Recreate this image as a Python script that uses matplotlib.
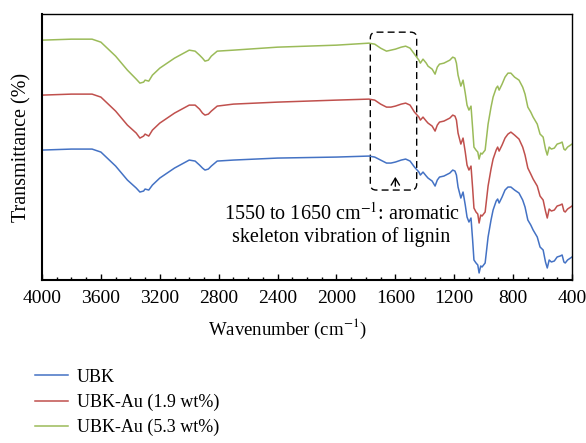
import numpy as np
import matplotlib
matplotlib.use("Agg")
import matplotlib.pyplot as plt
from matplotlib.patches import FancyBboxPatch
from matplotlib.ticker import MultipleLocator

plt.rcParams["font.family"] = ["Liberation Serif", "DejaVu Serif"]
plt.rcParams["mathtext.fontset"] = "stix"

# wavenumber (cm-1) and transmittance (arbitrary, stacked)
wavenumber = [4000, 3800, 3660, 3600, 3500, 3420, 3360, 3335, 3310, 3300,
              3275, 3250, 3200, 3100, 3000, 2960, 2930, 2910, 2893, 2870,
              2850, 2810, 2700, 2400, 2000, 1780, 1740, 1700, 1660, 1630,
              1600, 1560, 1530, 1500, 1470, 1440, 1430, 1412, 1390, 1378,
              1350, 1330, 1315, 1300, 1270, 1230, 1210, 1195, 1185, 1174,
              1155, 1140, 1125, 1113, 1100, 1086, 1075, 1066, 1052, 1040,
              1031, 1020, 1011, 990, 980, 970, 950, 936, 915, 905,
              895, 875, 855, 835, 815, 790, 760, 735, 719, 700,
              680, 664, 636, 617, 596, 580, 568, 555, 540, 520,
              501, 480, 467, 455, 446, 430, 410, 400]

ubk = [130, 131, 131, 128, 114, 100, 92, 88, 89, 91,
       90, 95, 102, 112, 120, 119, 115, 112, 110, 111,
       114, 119, 120, 122, 123, 124, 123, 120, 117, 117,
       118, 120, 121, 119, 113, 108, 105, 108, 104, 102,
       99, 94, 100, 103, 104, 107, 110, 109, 105, 93,
       82, 88, 75, 63, 58, 62, 40, 20, 17, 15,
       7, 14, 13, 17, 30, 43, 60, 70, 79, 81,
       77, 83, 90, 93, 93, 90, 87, 80, 73, 60,
       55, 50, 43, 33, 30, 18, 12, 20, 18, 19,
       23, 24, 25, 18, 17, 20, 22, 23]

ubk_au_19 = [185, 186, 186, 183, 169, 155, 147, 142, 144, 146,
             144, 150, 157, 167, 175, 175, 171, 167, 165, 166,
             169, 174, 176, 178, 180, 181, 180, 176, 173, 173,
             174, 176, 177, 175, 168, 163, 160, 163, 159, 157,
             154, 149, 155, 158, 159, 162, 165, 164, 160, 147,
             136, 142, 128, 115, 110, 114, 92, 72, 68, 66,
             57, 65, 64, 68, 81, 94, 111, 121, 130, 133,
             129, 135, 142, 146, 148, 145, 141, 133, 125, 112,
             106, 101, 94, 84, 80, 69, 62, 71, 69, 70,
             74, 75, 76, 69, 68, 71, 73, 74]

ubk_au_53 = [240, 241, 241, 238, 224, 210, 201, 197, 198, 200,
             199, 205, 212, 222, 230, 229, 225, 222, 219, 220,
             224, 229, 230, 233, 235, 237, 236, 232, 229, 230,
             231, 233, 234, 232, 226, 220, 217, 221, 217, 214,
             211, 206, 213, 216, 217, 220, 223, 222, 217, 205,
             194, 200, 187, 175, 170, 174, 152, 133, 130, 128,
             121, 127, 126, 130, 143, 156, 173, 183, 192, 194,
             190, 196, 203, 207, 207, 203, 200, 193, 186, 173,
             168, 163, 156, 146, 143, 131, 125, 133, 131, 132,
             136, 137, 138, 131, 130, 133, 135, 136]

labels = ["UBK", "UBK-Au (1.9 wt%)", "UBK-Au (5.3 wt%)"]
colors = ["#4472C4", "#C0504D", "#9BBB59"]

fig = plt.figure(figsize=(5.86, 4.43), dpi=100)
ax = fig.add_axes([0.0717, 0.368, 0.9044, 0.600])

for y, lab, c in zip([ubk, ubk_au_19, ubk_au_53], labels, colors):
    ax.plot(wavenumber, y, color=c, lw=1.1, label=lab)

ax.set_xlim(4000, 400)
ax.set_ylim(0, 266)
ax.xaxis.set_major_locator(MultipleLocator(400))
ax.xaxis.set_minor_locator(MultipleLocator(100))
ax.set_yticks([])
ax.tick_params(axis="x", which="major", direction="in", length=4, width=1,
               labelsize=14, pad=7)
ax.tick_params(axis="x", which="minor", direction="in", length=2.5, width=1)
for s in ax.spines.values():
    s.set_linewidth(1.0)
ax.spines["bottom"].set_linewidth(1.5)
ax.spines["left"].set_linewidth(1.5)

ax.set_xlabel("Wavenumber (cm$^{-1}$)", fontsize=13.5)
ax.xaxis.set_label_coords(0.464, -0.14)
ax.set_ylabel("Transmittance (%)", fontsize=14.5)
ax.yaxis.set_label_coords(-0.019, 0.5)

# dashed box around the aromatic band
box = FancyBboxPatch((1455, 90), 315, 158,
                     boxstyle="round,pad=0,rounding_size=40",
                     mutation_aspect=0.15, fill=False, ec="black",
                     lw=1.0, ls=(0, (5, 3)))
ax.add_patch(box)
ax.annotate("", xy=(1600, 106), xytext=(1600, 91),
            arrowprops=dict(arrowstyle="->,head_length=0.5,head_width=0.3",
                            color="black", lw=1.0))
ax.text(1965, 77, "1550 to 1650 cm$^{-1}$: aromatic\nskeleton vibration of lignin",
        ha="center", va="top", fontsize=14.5, linespacing=1.15)

fig.legend(loc="upper left", bbox_to_anchor=(0.06, 0.168), frameon=False,
           fontsize=13, handlelength=1.8, handletextpad=0.5,
           labelspacing=0.45, borderpad=0, borderaxespad=0)

fig.savefig("out.png", dpi=100)
